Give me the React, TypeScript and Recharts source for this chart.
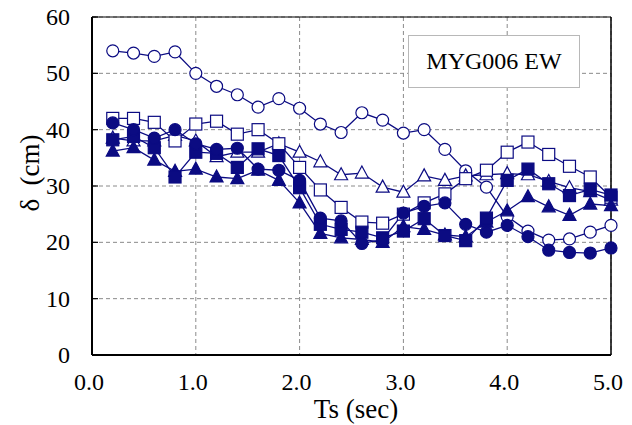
import React from "react";
import {
  LineChart,
  Line,
  XAxis,
  YAxis,
  CartesianGrid,
  ReferenceLine,
} from "recharts";

const periods = [0.2, 0.4, 0.6, 0.8, 1.0, 1.2, 1.4, 1.6, 1.8, 2.0, 2.2, 2.4, 2.6, 2.8, 3.0, 3.2, 3.4, 3.6, 3.8, 4.0, 4.2, 4.4, 4.6, 4.8, 5.0];

const openCircle = [54, 53.6, 53, 53.8, 50, 47.7, 46.2, 44, 45.5, 43.8, 41, 39.5, 43, 41.7, 39.4, 40, 36.5, 32.7, 29.8, 24.6, 22, 20.4, 20.6, 21.8, 23];
const filledCircle = [41.2, 40, 38.5, 40, 37.5, 36.5, 36.7, 33, 32.8, 31, 24.3, 23.8, 19.8, 20.5, 25.2, 26.4, 27, 23.2, 21.8, 23, 21, 18.6, 18.2, 18.1, 19];
const openSquare = [42, 42, 41.3, 38, 41, 41.5, 39.2, 40, 37.5, 33.3, 29.3, 26.2, 23.6, 23.4, 25, 27, 28.6, 31.3, 32.8, 36, 37.8, 35.6, 33.5, 31.6, 28];
const filledSquare = [38.2, 38.8, 36.8, 31.6, 36, 35.8, 33.3, 36.6, 35.4, 29.7, 23.2, 22.3, 21.8, 20.8, 22, 24.2, 21.2, 20.3, 24.3, 31, 33, 30.4, 28.3, 29.4, 28.4];
const openTriangle = [38.5, 38, 38, 39, 38, 35.2, 36, 36, 37.5, 36, 34.3, 32, 32.3, 29.8, 28.9, 31.8, 31, 31.8, 32, 32.2, 32, 30.8, 29.7, 29, 27.5];
const filledTriangle = [36.2, 36.8, 34.6, 32.6, 33, 31.6, 31.3, 32.8, 31, 27, 21.6, 20.8, 20.5, 20, 22.8, 22.3, 21.3, 21, 23.6, 25.6, 28.1, 26.3, 24.8, 26.8, 26.5];

const xTicks = [0, 1, 2, 3, 4, 5];
const yTicks = [0, 10, 20, 30, 40, 50, 60];

const NAVY = "#0b0b82";
const SERIF = "'Times New Roman', Times, 'Liberation Serif', serif";

const data = periods.map((t, i) => ({
  t,
  oc: openCircle[i],
  fc: filledCircle[i],
  os: openSquare[i],
  fs: filledSquare[i],
  ot: openTriangle[i],
  ft: filledTriangle[i],
}));

type Shape = "circle" | "square" | "triangle";

function makeDot(shape: Shape, filled: boolean) {
  return (props: any) => {
    const { cx, cy, index } = props;
    const fill = filled ? NAVY : "#ffffff";
    const key = `${shape}-${filled}-${index}`;
    if (cx == null || cy == null) return <g key={key} />;
    if (shape === "circle") {
      return <circle key={key} cx={cx} cy={cy} r={6} fill={fill} stroke={NAVY} strokeWidth={1.2} />;
    }
    if (shape === "square") {
      return <rect key={key} x={cx - 6} y={cy - 6} width={12} height={12} fill={fill} stroke={NAVY} strokeWidth={1.2} />;
    }
    return (
      <polygon
        key={key}
        points={`${cx},${cy - 7} ${cx - 6.5},${cy + 5} ${cx + 6.5},${cy + 5}`}
        fill={fill}
        stroke={NAVY}
        strokeWidth={1.2}
      />
    );
  };
}

const series: { key: string; shape: Shape; filled: boolean }[] = [
  { key: "oc", shape: "circle", filled: false },
  { key: "ot", shape: "triangle", filled: false },
  { key: "os", shape: "square", filled: false },
  { key: "ft", shape: "triangle", filled: true },
  { key: "fs", shape: "square", filled: true },
  { key: "fc", shape: "circle", filled: true },
];

// serif tick labels, Times-like as in the original
const XTick = (props: any) => {
  const { payload, y } = props;
  const cx = payload.coordinate;
  return (
    <text x={cx - 3} y={y + 33} textAnchor="middle" fill="#000" fontSize={24} fontFamily={SERIF}>
      {Number(payload.value).toFixed(1)}
    </text>
  );
};

const YTick = (props: any) => {
  const { payload, x } = props;
  const cy = payload.coordinate;
  return (
    <text x={x - 26} y={cy + 8} textAnchor="end" fill="#000" fontSize={24} fontFamily={SERIF}>
      {payload.value}
    </text>
  );
};

export default function App() {
  return (
    <div style={{ position: "absolute", left: 0, top: 0, width: 632, height: 425, background: "#fff", fontFamily: SERIF }}>
      <LineChart width={632} height={425} data={data} margin={{ top: 17, right: 21, bottom: 20, left: 32 }}>
        <CartesianGrid stroke="#8a8a8a" strokeDasharray="4 3" />
        <XAxis
          dataKey="t"
          type="number"
          domain={[0, 5]}
          ticks={xTicks}
          axisLine={{ stroke: "#000", strokeWidth: 2 }}
          tickLine={false}
          tick={<XTick />}
          tickSize={0}
          height={50}
        />
        <YAxis
          type="number"
          domain={[0, 60]}
          ticks={yTicks}
          axisLine={{ stroke: "#000", strokeWidth: 2 }}
          tickLine={{ stroke: "#000", strokeWidth: 1.2 }}
          tickSize={-6}
          tick={<YTick />}
          width={60}
        />
        <ReferenceLine y={60} stroke="#000" strokeWidth={1} />
        <ReferenceLine x={5} stroke="#000" strokeWidth={1.5} />
        {series.map((s) => (
          <Line
            key={s.key}
            dataKey={s.key}
            stroke={NAVY}
            strokeWidth={1.3}
            dot={makeDot(s.shape, s.filled)}
            activeDot={false}
            isAnimationActive={false}
            type="linear"
          />
        ))}
      </LineChart>
      <div style={{ position: "absolute", left: 0, top: 395, width: 712, textAlign: "center", fontSize: 27, lineHeight: "28px", color: "#000" }}>
        Ts (sec)
      </div>
      <div
        style={{
          position: "absolute",
          left: 30,
          top: 173,
          transform: "translate(-50%, -50%) rotate(-90deg)",
          fontSize: 27,
          lineHeight: "28px",
          whiteSpace: "pre",
          color: "#000",
        }}
      >
        {"δ  (cm)"}
      </div>
      <div
        style={{
          position: "absolute",
          left: 408,
          top: 35,
          width: 172,
          height: 53,
          border: "1px solid #b8b8b8",
          background: "#fff",
          fontSize: 24,
          display: "flex",
          alignItems: "center",
          justifyContent: "center",
          boxSizing: "border-box",
          color: "#000",
        }}
      >
        MYG006 EW
      </div>
    </div>
  );
}
